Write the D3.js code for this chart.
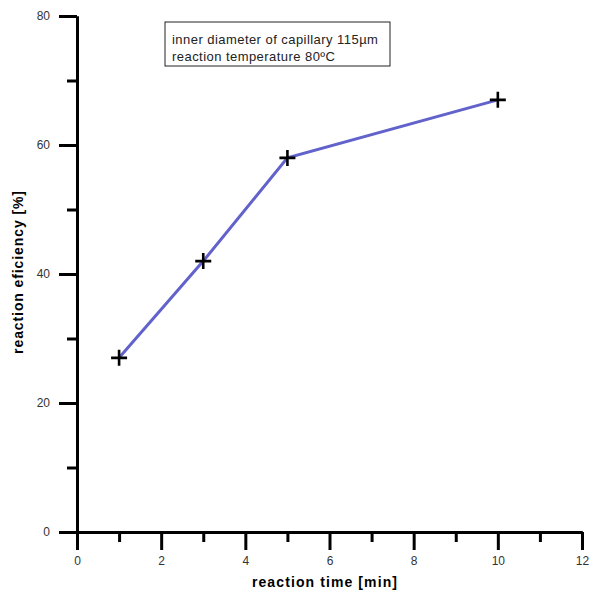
<!DOCTYPE html>
<html>
<head>
<meta charset="utf-8">
<script src="https://cdn.jsdelivr.net/npm/d3@7"></script>
<style>
  body { margin: 0; background: #fff; }
  svg { display: block; font-family: "Liberation Sans", Arial, sans-serif; }
</style>
</head>
<body>
<div id="chart"></div>
<script>
// data
const times      = [1, 3, 5, 10];
const efficiency = [27, 42, 58, 67];
const xTicks     = [0, 2, 4, 6, 8, 10, 12];
const yTicks     = [0, 20, 40, 60, 80];
const legendText = ['inner diameter of capillary 115\u00b5m', 'reaction temperature 80\u00baC'];

const W = 591, H = 593;
const m = { top: 16, right: 9, bottom: 61, left: 77 };

const svg = d3.select('#chart').append('svg')
  .attr('width', W).attr('height', H);

const x = d3.scaleLinear().domain([0, 12]).range([m.left, 582]);
const y = d3.scaleLinear().domain([0, 80]).range([532, m.top]);

// --- axes: major ticks 18px outward, minor ticks 10px ---
const xAxis = d3.axisBottom(x).tickValues(xTicks).tickSize(18).tickSizeOuter(0).tickPadding(6);
const xMinor = d3.axisBottom(x).tickValues(d3.range(1, 12, 2)).tickSize(10).tickSizeOuter(0).tickFormat('');
const yAxis = d3.axisLeft(y).tickValues(yTicks).tickSize(18).tickSizeOuter(0).tickPadding(9);
const yMinor = d3.axisLeft(y).tickValues(d3.range(10, 80, 20)).tickSize(10).tickSizeOuter(0).tickFormat('');

function styleAxis(g) {
  g.select('.domain').attr('stroke', '#000').attr('stroke-width', 3);
  g.selectAll('.tick line').attr('stroke', '#000').attr('stroke-width', 3);
  g.selectAll('.tick text').attr('fill', '#333').style('font-size', '12px');
}

svg.append('g').attr('transform', `translate(0,${y(0)})`).call(xMinor).call(styleAxis);
svg.append('g').attr('transform', `translate(0,${y(0)})`).call(xAxis).call(styleAxis);
svg.append('g').attr('transform', `translate(${x(0)},0)`).call(yMinor).call(styleAxis);
svg.append('g').attr('transform', `translate(${x(0)},0)`).call(yAxis).call(styleAxis);

// axis titles
svg.append('text')
  .attr('x', 325).attr('y', 587)
  .attr('text-anchor', 'middle')
  .style('font-size', '14px').style('font-weight', 'bold').style('letter-spacing', '1.1px')
  .text('reaction time [min]');

svg.append('text')
  .attr('transform', 'translate(23,272) rotate(-90)')
  .attr('text-anchor', 'middle')
  .style('font-size', '14px').style('font-weight', 'bold').style('letter-spacing', '0.9px')
  .text('reaction eficiency [%]');

// --- series ---
const points = times.map((t, i) => ({ t, v: efficiency[i] }));

svg.append('path')
  .datum(points)
  .attr('fill', 'none')
  .attr('stroke', '#6262cc')
  .attr('stroke-width', 3)
  .attr('d', d3.line().x(d => x(d.t)).y(d => y(d.v)));

svg.append('g').selectAll('path.mark')
  .data(points)
  .join('path')
    .attr('class', 'mark')
    .attr('transform', d => `translate(${x(d.t)},${y(d.v)})`)
    .attr('d', 'M-8,0H8M0,-8V8')
    .attr('stroke', '#000')
    .attr('stroke-width', 2.6);

// --- legend box ---
const lg = svg.append('g').attr('transform', 'translate(165,22)');
lg.append('rect')
  .attr('width', 225).attr('height', 44)
  .attr('fill', '#fff').attr('stroke', '#222').attr('stroke-width', 1);
lg.selectAll('text')
  .data(legendText)
  .join('text')
    .attr('x', 7).attr('y', (d, i) => 22 + i * 17)
    .style('font-size', '13px').style('letter-spacing', '0.45px').attr('fill', '#222')
    .text(d => d);
</script>
</body>
</html>
